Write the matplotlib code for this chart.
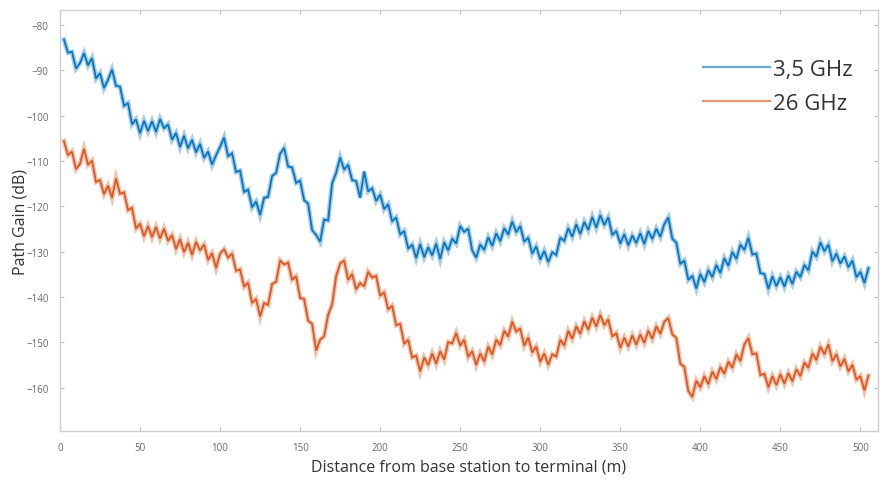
import numpy as np
import matplotlib
matplotlib.use("Agg")
import matplotlib.pyplot as plt
from matplotlib.lines import Line2D

# Measured path gain (dB) sampled every 2.5 m along the route
distance_m = np.arange(1, 203) * 2.5

gain_3p5ghz = [
    -83.2, -86.1, -85.9, -89.6, -88.4, -86.2, -88.9, -87.3, -91.8, -90.6,
    -93.9, -92.1, -89.8, -93.4, -93.6, -97.8, -97.2, -101.9, -100.8, -103.9,
    -101.1, -103.4, -101.2, -103.6, -100.7, -102.8, -101.9, -105.3, -103.8, -106.9,
    -104.4, -107.2, -105.3, -108.1, -106.2, -109.3, -107.9, -110.8, -108.7, -106.9,
    -104.8, -108.9, -108.3, -112.4, -112.1, -116.8, -116.3, -120.2, -118.9, -121.9,
    -118.1, -117.9, -113.3, -112.6, -108.4, -107.1, -111.2, -111.4, -114.8, -114.3,
    -118.6, -119.4, -125.2, -126.3, -127.8, -122.9, -123.1, -114.9, -112.6, -109.2,
    -111.9, -110.8, -114.2, -114.4, -118.1, -112.3, -116.7, -116.0, -118.8, -117.4,
    -120.6, -119.5, -123.3, -122.4, -126.2, -125.4, -129.3, -128.4, -131.4, -128.3,
    -131.2, -129.0, -130.8, -128.2, -131.6, -127.9, -129.7, -127.1, -128.2, -124.3,
    -125.6, -124.9, -129.7, -131.3, -128.4, -129.6, -126.8, -128.7, -125.9, -127.7,
    -124.8, -126.2, -123.3, -125.7, -124.3, -127.8, -126.9, -130.4, -128.8, -131.7,
    -129.8, -132.3, -130.1, -130.7, -126.9, -127.6, -124.8, -126.7, -123.9, -126.1,
    -123.4, -125.2, -122.3, -124.7, -121.9, -124.1, -122.4, -126.3, -125.4, -128.2,
    -126.1, -128.6, -126.4, -128.1, -125.9, -128.3, -125.4, -127.2, -124.9, -126.7,
    -123.9, -122.4, -127.1, -128.0, -132.7, -131.9, -136.2, -135.3, -138.1, -134.9,
    -136.7, -134.0, -135.6, -132.9, -134.7, -131.4, -133.1, -130.0, -131.6, -128.4,
    -129.6, -126.9, -130.6, -130.4, -134.7, -134.9, -138.2, -135.4, -137.6, -135.6,
    -137.7, -135.2, -137.1, -134.4, -135.6, -132.9, -134.1, -129.9, -131.1, -127.9,
    -129.9, -128.4, -132.1, -130.4, -132.6, -131.0, -133.4, -131.9, -135.6, -134.4,
    -136.9, -133.6,
]

gain_26ghz = [
    -105.6, -108.7, -107.9, -111.8, -110.6, -107.3, -110.8, -109.9, -114.6, -114.2,
    -117.3, -115.4, -118.1, -113.8, -117.2, -116.9, -120.8, -120.3, -124.9, -123.8,
    -126.6, -124.3, -126.8, -124.5, -127.1, -124.9, -127.6, -126.3, -129.4, -127.2,
    -130.1, -128.0, -130.7, -127.8, -129.7, -128.4, -131.8, -130.3, -133.6, -130.4,
    -129.4, -131.3, -130.4, -134.2, -133.9, -137.7, -136.8, -141.3, -140.4, -144.3,
    -141.3, -141.7, -137.1, -136.6, -131.9, -132.8, -132.4, -136.2, -135.4, -140.2,
    -140.4, -145.2, -145.9, -151.8, -149.4, -148.6, -143.9, -141.6, -135.4, -132.6,
    -131.9, -136.2, -134.9, -138.3, -136.9, -137.6, -134.4, -135.7, -135.3, -139.7,
    -138.9, -142.7, -141.9, -146.2, -145.9, -150.3, -149.4, -153.3, -152.9, -156.4,
    -153.3, -155.0, -152.4, -154.7, -151.9, -153.8, -149.9, -150.2, -147.9, -150.7,
    -149.4, -153.2, -151.9, -155.0, -152.4, -154.2, -150.9, -152.7, -149.4, -150.6,
    -147.4, -148.7, -145.4, -147.6, -146.9, -150.7, -148.9, -152.2, -150.9, -154.3,
    -152.4, -154.9, -152.6, -153.1, -149.4, -150.7, -147.4, -149.2, -146.4, -148.1,
    -145.3, -147.2, -144.5, -146.5, -143.9, -146.2, -144.9, -148.7, -147.9, -151.2,
    -148.9, -150.9, -148.4, -150.5, -148.2, -150.1, -147.4, -149.2, -146.4, -148.1,
    -145.4, -144.6, -148.2, -149.0, -154.7, -155.4, -160.7, -162.0, -158.4, -159.9,
    -157.4, -159.2, -156.4, -158.1, -155.4, -156.9, -154.2, -155.6, -152.6, -154.1,
    -150.4, -149.0, -152.6, -152.4, -157.2, -156.9, -159.9, -157.4, -159.4, -157.0,
    -159.1, -156.7, -158.6, -155.9, -157.4, -154.4, -155.6, -152.4, -153.9, -150.9,
    -152.6, -150.4, -154.1, -152.6, -155.3, -153.6, -156.4, -154.9, -158.2, -157.4,
    -160.6, -157.3,
]

series_labels = ["3,5 GHz", "26 GHz"]
series_colors = ["#0072BD", "#D95319"]
x_ticks = [0, 50, 100, 150, 200, 250, 300, 350, 400, 450, 500]
y_ticks = [-80, -90, -100, -110, -120, -130, -140, -150, -160]

plt.rcParams["font.family"] = ["Open Sans", "DejaVu Sans"]

fig = plt.figure(figsize=(8.82, 4.81), dpi=100)
ax = fig.add_axes([0.068, 0.102, 0.9275, 0.875])

for values, color in zip([gain_3p5ghz, gain_26ghz], series_colors):
    ax.plot(distance_m, values, color=color, lw=3.4, alpha=0.35,
            solid_joinstyle="miter")
    ax.plot(distance_m, values, color=color, lw=1.3, alpha=0.95,
            solid_joinstyle="miter")

ax.set_xlim(0, 511)
ax.set_ylim(-169.5, -76.7)
ax.set_xticks(x_ticks)
ax.set_yticks(y_ticks)
ax.tick_params(direction="in", length=3, width=0.8, colors="#bdbdbd",
               labelcolor="#6a6a6a", labelsize=7, top=True, right=True,
               pad=8)
for s in ax.spines.values():
    s.set_color("#cfcfcf")
    s.set_linewidth(1.0)

ax.set_xlabel("Distance from base station to terminal (m)", fontsize=11.5,
              color="#333333", labelpad=4)
ax.set_ylabel("Path Gain (dB)", fontsize=11.5, color="#333333")
ax.yaxis.set_label_coords(-0.039, 0.5)

handles = [Line2D([], [], color=c, lw=1.6, alpha=0.6) for c in series_colors]
ax.legend(handles, series_labels, loc="upper left",
          bbox_to_anchor=(0.775, 0.905), frameon=False, fontsize=16,
          handlelength=3.0, handletextpad=0.15, labelspacing=0.6,
          borderaxespad=0, labelcolor="#333333")

fig.savefig("out.png", dpi=100)
